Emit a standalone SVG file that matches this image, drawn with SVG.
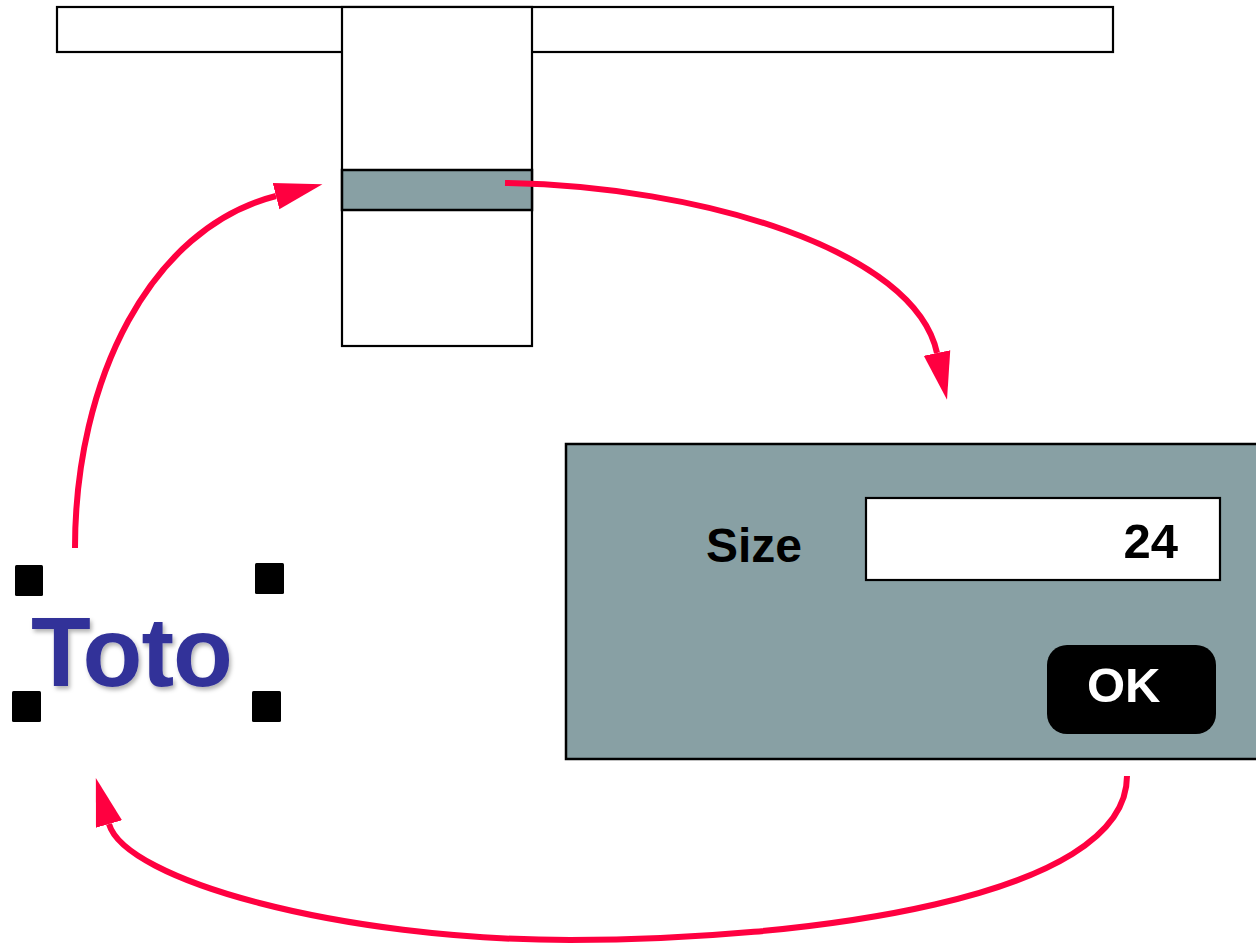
<svg xmlns="http://www.w3.org/2000/svg" width="1256" height="944" viewBox="0 0 1256 944">
<style>
.box{fill:#fff;stroke:#000;stroke-width:2.2}
.sel{fill:#88a0a4;stroke:#000;stroke-width:2.5}
.handle{fill:#000}
.lbl{font-family:"Liberation Sans",Arial,sans-serif;font-weight:bold}
.conn{fill:none;stroke:#ff0040;stroke-width:6}
</style>
<defs>
<marker id="ah" markerUnits="userSpaceOnUse" markerWidth="50" markerHeight="30" viewBox="0 -14 48 28" refX="0" refY="0" orient="auto">
<path d="M0,-13 L46,0 L0,13 z" fill="#ff0040"/>
</marker>
<filter id="sh" x="-10%" y="-10%" width="130%" height="130%">
<feDropShadow dx="2" dy="3" stdDeviation="2" flood-color="#000" flood-opacity="0.3"/>
</filter>
</defs>
<g id="menubar">
<rect class="box" x="57" y="7" width="1056" height="45"/>
</g>
<g id="dropdown">
<rect class="box" x="342" y="7" width="190" height="339"/>
<rect class="sel" x="342" y="170" width="190" height="40"/>
</g>
<g id="dialog">
<rect class="sel" x="566" y="444" width="700" height="315"/>
<text class="lbl" x="706" y="562" font-size="48" fill="#000">Size</text>
<rect class="box" x="866" y="498" width="354" height="82"/>
<text class="lbl" x="1178" y="558" font-size="49" fill="#000" text-anchor="end">24</text>
<rect x="1047" y="645" width="169" height="89" rx="20" fill="#000"/>
<text class="lbl" x="1087" y="702" font-size="49" fill="#fff">OK</text>
</g>
<g id="toto">
<text class="lbl" x="31" y="686" font-size="98" letter-spacing="-1" fill="#333399" filter="url(#sh)">Toto</text>
<rect class="handle" x="15" y="565" width="28" height="31" rx="1.5"/>
<rect class="handle" x="255" y="563" width="29" height="31" rx="1.5"/>
<rect class="handle" x="12" y="691" width="29" height="31" rx="1.5"/>
<rect class="handle" x="252" y="691" width="29" height="31" rx="1.5"/>
</g>
<g id="connectors">
<path class="conn" d="M75,548 C75,380 150,228 276,196" marker-end="url(#ah)"/>
<path class="conn" d="M505,183 C700,186 915,250 937,353" marker-end="url(#ah)"/>
<path class="conn" d="M1127,776 C1127,900 800,940 570,940 C340,940 125,880 109,824" marker-end="url(#ah)"/>
</g>
</svg>
